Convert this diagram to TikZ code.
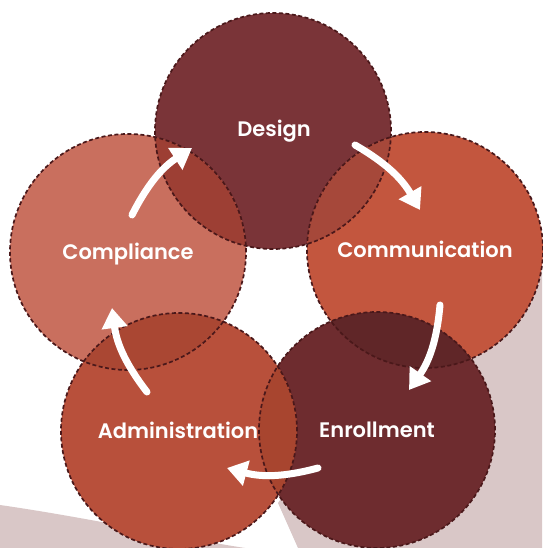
\documentclass[tikz,border=0pt]{standalone}
\usepackage{fontspec}
\newfontfamily\labelfont{Poppins SemiBold}
\usetikzlibrary{arrows.meta}

% palette
\definecolor{designC}{HTML}{7A3438}
\definecolor{complianceC}{HTML}{C96F5E}
\definecolor{communicationC}{HTML}{C3563E}
\definecolor{enrollmentC}{HTML}{6E2C2F}
\definecolor{administrationC}{HTML}{B8503B}
\definecolor{lensDCo}{HTML}{9D3F34}
\definecolor{lensDCm}{HTML}{A6483A}
\definecolor{lensCmE}{HTML}{602628}
\definecolor{lensEA}{HTML}{A8452F}
\definecolor{lensACo}{HTML}{AA4733}
\definecolor{rimC}{HTML}{4A181A}
\definecolor{swooshC}{HTML}{D9C7C7}

\begin{document}
\begin{tikzpicture}[x=1pt,y=1pt,
  stage/.style={circle, minimum size=236pt, inner sep=0pt, fill=#1},
  rim/.style={draw=rimC, line width=1.7pt, dash pattern=on 4pt off 2.5pt},
  caption/.style={text=white, anchor=base, font=\labelfont\fontsize{21}{25}\selectfont},
  flow/.style={draw=white, line width=7pt, line cap=round,
    -{Triangle[width=25pt,length=20pt]}}
]
\useasboundingbox (0,0) rectangle (542,548);
\fill[white] (0,0) rectangle (542,548);

% background swoosh
\fill[swooshC] (542,290) .. controls (430,210) and (330,120) .. (278,45)
  -- (298,0) -- (542,0) -- cycle;
\fill[swooshC] (0,43) .. controls (90,30) and (180,10) .. (245,0) -- (0,0) -- cycle;

% the five stages
\node[stage=designC] (design) at (273,417) {};
\node[stage=communicationC] (communication) at (425,298) {};
\node[stage=enrollmentC] (enrollment) at (377,118) {};
\node[stage=administrationC] (administration) at (179,117) {};
\node[stage=complianceC] (compliance) at (128,296) {};

% overlaps
\begin{scope}
  \clip (design.center) circle[radius=118];
  \fill[lensDCo] (compliance.center) circle[radius=118];
  \fill[lensDCm] (communication.center) circle[radius=118];
\end{scope}
\begin{scope}
  \clip (enrollment.center) circle[radius=118];
  \fill[lensCmE] (communication.center) circle[radius=118];
  \fill[lensEA] (administration.center) circle[radius=118];
\end{scope}
\begin{scope}
  \clip (administration.center) circle[radius=118];
  \fill[lensACo] (compliance.center) circle[radius=118];
\end{scope}

% dashed rims
\foreach \s in {design,communication,enrollment,administration,compliance}
  \draw[rim] (\s.center) circle[radius=118];

% labels
\node[caption] (tDesign) at (274,411) {Design};
\node[caption] (tCommunication) at (425,290) {Communication};
\node[caption] (tEnrollment) at (377,110) {Enrollment};
\node[caption] (tAdministration) at (178,109) {Administration};
\node[caption] (tCompliance) at (128,288) {Compliance};

% cycle arrows
\coordinate (a1) at (132,333); \coordinate (b1) at (192,400);
\coordinate (a2) at (355,403); \coordinate (b2) at (420,338);
\coordinate (a3) at (440,243); \coordinate (b3) at (409,158);
\coordinate (a4) at (318,80);  \coordinate (b4) at (227,80);
\coordinate (a5) at (147,156); \coordinate (b5) at (112,240);
\foreach \i in {1,...,5}
  \draw[flow] (a\i) to[bend left=15] (b\i);
\end{tikzpicture}
\end{document}
